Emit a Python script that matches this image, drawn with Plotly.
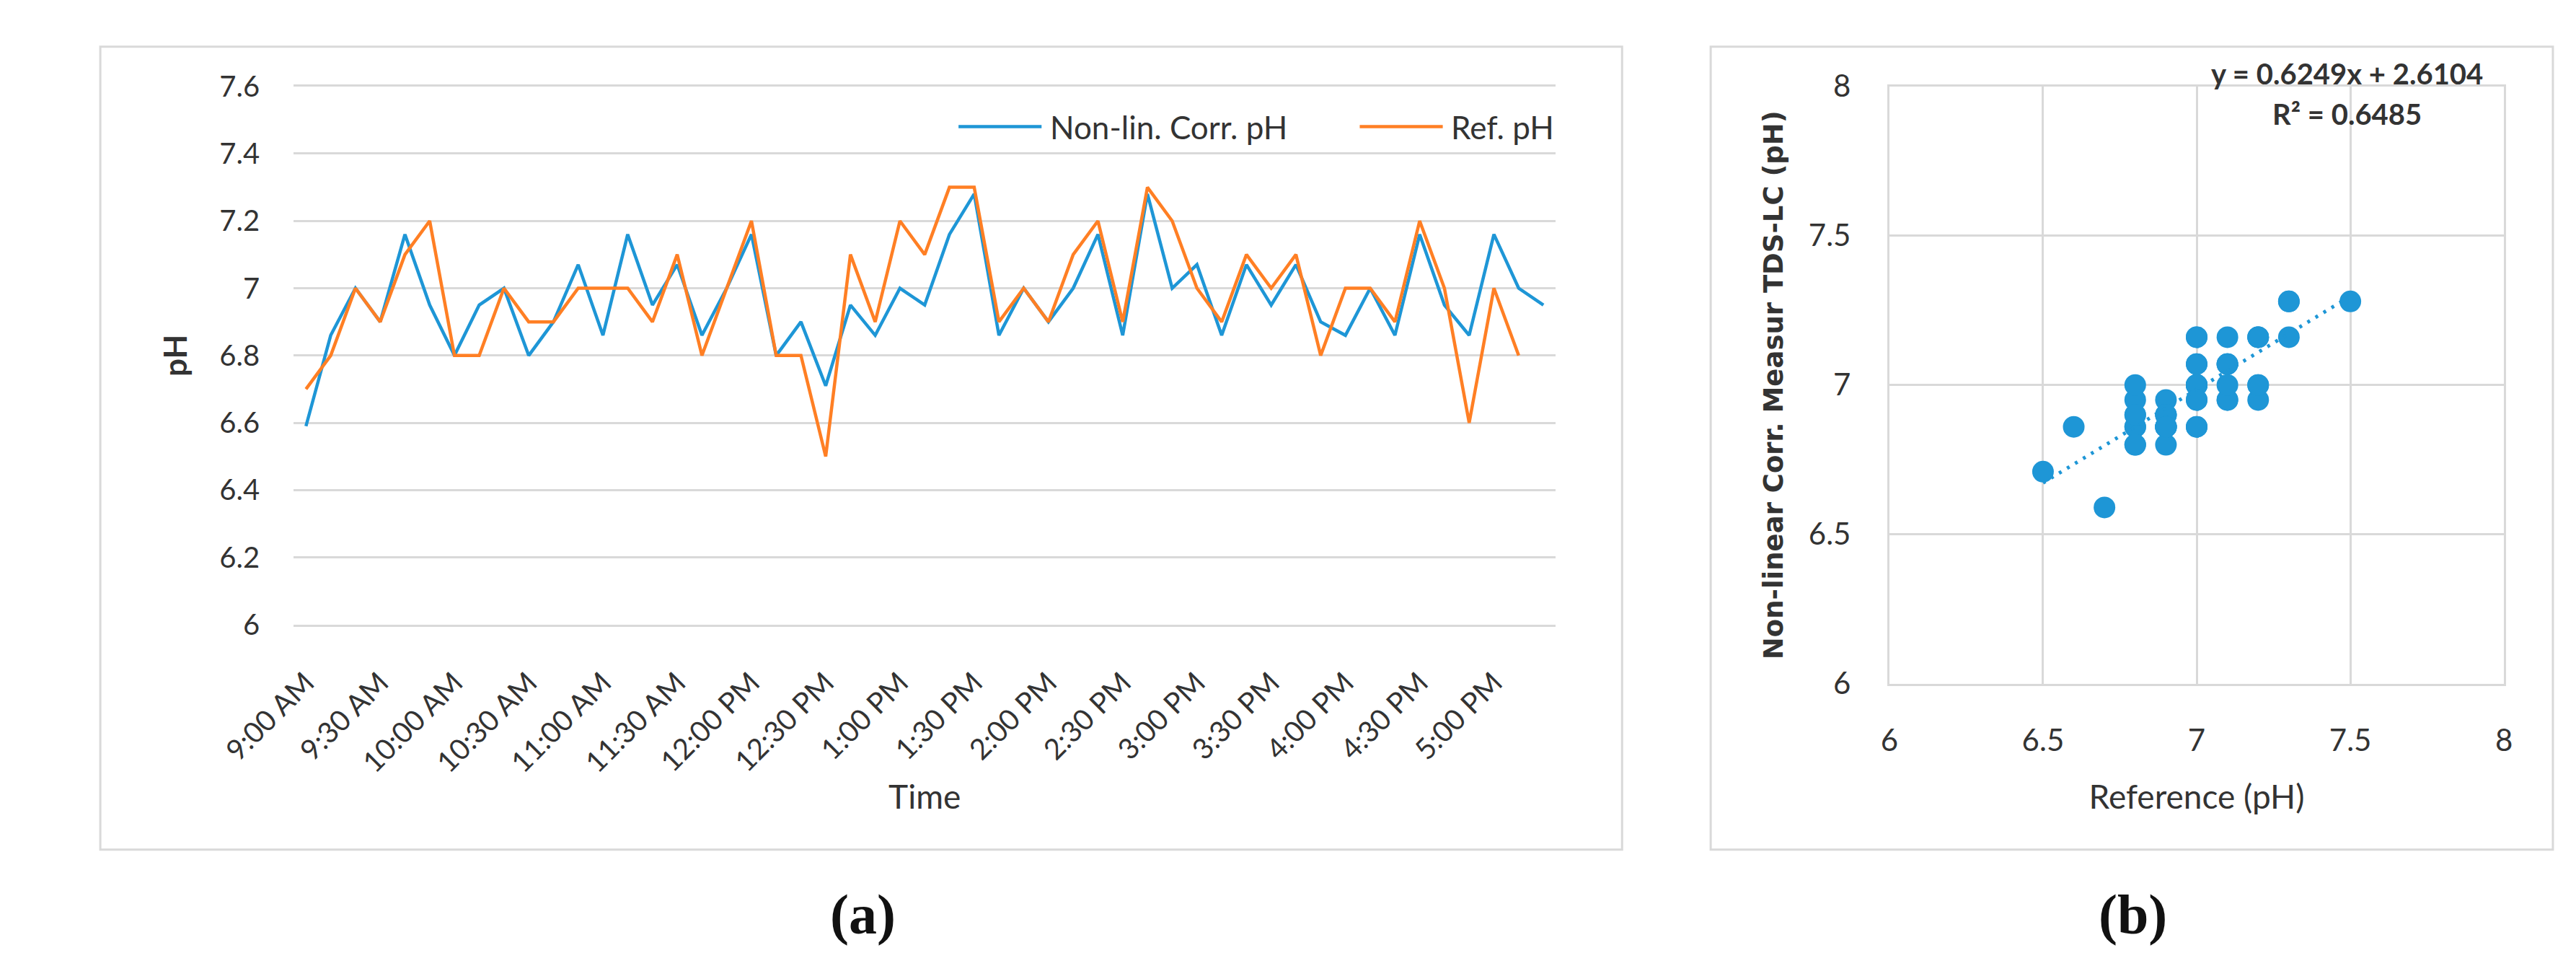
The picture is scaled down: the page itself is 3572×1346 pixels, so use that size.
import plotly.graph_objects as go

# ---------------- data ----------------
times = [
    "9:00 AM", "9:10 AM", "9:20 AM", "9:30 AM", "9:40 AM", "9:50 AM",
    "10:00 AM", "10:10 AM", "10:20 AM", "10:30 AM", "10:40 AM", "10:50 AM",
    "11:00 AM", "11:10 AM", "11:20 AM", "11:30 AM", "11:40 AM", "11:50 AM",
    "12:00 PM", "12:10 PM", "12:20 PM", "12:30 PM", "12:40 PM", "12:50 PM",
    "1:00 PM", "1:10 PM", "1:20 PM", "1:30 PM", "1:40 PM", "1:50 PM",
    "2:00 PM", "2:10 PM", "2:20 PM", "2:30 PM", "2:40 PM", "2:50 PM",
    "3:00 PM", "3:10 PM", "3:20 PM", "3:30 PM", "3:40 PM", "3:50 PM",
    "4:00 PM", "4:10 PM", "4:20 PM", "4:30 PM", "4:40 PM", "4:50 PM",
    "5:00 PM", "5:10 PM", "5:20 PM",
]
time_ticks = [
    "9:00 AM", "9:30 AM", "10:00 AM", "10:30 AM", "11:00 AM", "11:30 AM",
    "12:00 PM", "12:30 PM", "1:00 PM", "1:30 PM", "2:00 PM", "2:30 PM",
    "3:00 PM", "3:30 PM", "4:00 PM", "4:30 PM", "5:00 PM",
]
corr_ph = [
    6.59, 6.86, 7.00, 6.90, 7.16, 6.95, 6.80, 6.95, 7.00, 6.80,
    6.90, 7.07, 6.86, 7.16, 6.95, 7.07, 6.86, 7.00, 7.16, 6.80,
    6.90, 6.71, 6.95, 6.86, 7.00, 6.95, 7.16, 7.28, 6.86, 7.00,
    6.90, 7.00, 7.16, 6.86, 7.28, 7.00, 7.07, 6.86, 7.07, 6.95,
    7.07, 6.90, 6.86, 7.00, 6.86, 7.16, 6.95, 6.86, 7.16, 7.00,
    6.95,
]
ref_ph = [
    6.7, 6.8, 7.0, 6.9, 7.1, 7.2, 6.8, 6.8, 7.0, 6.9,
    6.9, 7.0, 7.0, 7.0, 6.9, 7.1, 6.8, 7.0, 7.2, 6.8,
    6.8, 6.5, 7.1, 6.9, 7.2, 7.1, 7.3, 7.3, 6.9, 7.0,
    6.9, 7.1, 7.2, 6.9, 7.3, 7.2, 7.0, 6.9, 7.1, 7.0,
    7.1, 6.8, 7.0, 7.0, 6.9, 7.2, 7.0, 6.6, 7.0, 6.8,
]
# extra point visible only in the scatter panel
scatter_extra_ref = [7.5]
scatter_extra_meas = [7.28]

ph_ticks = [6.0, 6.2, 6.4, 6.6, 6.8, 7.0, 7.2, 7.4, 7.6]
ph_tick_text = ["6", "6.2", "6.4", "6.6", "6.8", "7", "7.2", "7.4", "7.6"]
b_ticks = [6.0, 6.5, 7.0, 7.5, 8.0]
b_tick_text = ["6", "6.5", "7", "7.5", "8"]

trend_slope = 0.6249
trend_intercept = 2.6104
r_squared = 0.6485

# ---------------- styles ----------------
W, H = 3572, 1346
BLUE = "#1E96D6"
ORANGE = "#FF7F24"
GRID = "#D9D9D9"
TXT = "#333333"
FONT = "Lato"

scat_x = ref_ph + scatter_extra_ref
scat_y = corr_ph[:len(ref_ph)] + scatter_extra_meas
tx = [min(scat_x), max(scat_x)]
ty = [trend_slope * v + trend_intercept for v in tx]

fig = go.Figure()

fig.add_trace(go.Scatter(
    x=times, y=corr_ph, mode="lines", name="Non-lin. Corr. pH",
    line=dict(color=BLUE, width=4.5), xaxis="x", yaxis="y", showlegend=False))
fig.add_trace(go.Scatter(
    x=times[:len(ref_ph)], y=ref_ph, mode="lines", name="Ref. pH",
    line=dict(color=ORANGE, width=4.5), xaxis="x", yaxis="y", showlegend=False))

fig.add_trace(go.Scatter(
    x=scat_x, y=scat_y, mode="markers", name="Measurements",
    marker=dict(color=BLUE, size=30, line=dict(width=0)),
    xaxis="x2", yaxis="y2", showlegend=False))
fig.add_trace(go.Scatter(
    x=tx, y=ty, mode="lines", name="Linear trend",
    line=dict(color=BLUE, width=5, dash="4px,9px"),
    xaxis="x2", yaxis="y2", showlegend=False))


def px(x):
    return x / W


def py(y):
    return 1 - y / H


tick_font = dict(family=FONT, size=40, color=TXT)

fig.update_layout(
    width=W, height=H, autosize=False,
    margin=dict(l=0, r=0, t=0, b=0),
    paper_bgcolor="white", plot_bgcolor="white",
    font=dict(family=FONT, color=TXT),
    xaxis=dict(
        domain=[px(305), px(2114)], type="category",
        categoryorder="array", categoryarray=times,
        range=[-0.5, len(times) - 0.5],
        tickmode="array", tickvals=time_ticks, ticktext=time_ticks,
        tickangle=-45, tickfont=tick_font, ticks="", ticklabelstandoff=38,
        showgrid=False, zeroline=False,
        showline=True, mirror=True, linecolor=GRID, linewidth=3,
        title=dict(text="Time", font=dict(family=FONT, size=46, color=TXT), standoff=10),
        anchor="y", fixedrange=True,
    ),
    yaxis=dict(
        domain=[py(864), py(89)], range=[6.0, 7.6],
        tickmode="array", tickvals=ph_ticks, ticktext=ph_tick_text,
        tickfont=tick_font, ticks="", ticklabelstandoff=46,
        showgrid=True, gridcolor=GRID, gridwidth=3, zeroline=False,
        showline=False,
        title=dict(text="pH", font=dict(family=FONT, size=44, color=TXT, weight="bold"),
                   standoff=30),
        anchor="x", fixedrange=True,
    ),
    xaxis2=dict(
        domain=[px(2592), px(3473)], range=[6.0, 8.0],
        tickmode="array", tickvals=b_ticks, ticktext=b_tick_text,
        tickfont=dict(family=FONT, size=42, color=TXT), ticks="", ticklabelstandoff=40,
        showgrid=True, gridcolor=GRID, gridwidth=3, zeroline=False,
        showline=True, mirror=True, linecolor=GRID, linewidth=3,
        title=dict(text="Reference (pH)", font=dict(family=FONT, size=46, color=TXT), standoff=40),
        anchor="y2", fixedrange=True,
    ),
    yaxis2=dict(
        domain=[py(949), py(89)], range=[6.0, 8.0],
        tickmode="array", tickvals=b_ticks, ticktext=b_tick_text,
        tickfont=dict(family=FONT, size=42, color=TXT), ticks="", ticklabelstandoff=42,
        showgrid=True, gridcolor=GRID, gridwidth=3, zeroline=False,
        showline=True, mirror=True, linecolor=GRID, linewidth=3,
        title=dict(text="Non-linear Corr. Measur TDS-LC (pH)",
                   font=dict(family="DejaVu Sans", size=37, color=TXT, weight="bold"),
                   standoff=24),
        anchor="x2", fixedrange=True,
    ),
)

# panel frames
for x0, x1 in [(28, 2209), (2336, 3543)]:
    fig.add_shape(type="rect", xref="paper", yref="paper",
                  x0=px(x0), x1=px(x1), y0=py(1188), y1=py(32),
                  line=dict(color=GRID, width=3), fillcolor="rgba(0,0,0,0)", layer="below")

# manual legend (long line samples like the original)
legend_items = [("Non-lin. Corr. pH", BLUE, 1258, 1377), ("Ref. pH", ORANGE, 1833, 1952)]
for label, col, lx0, lx1 in legend_items:
    fig.add_shape(type="line", xref="paper", yref="paper",
                  x0=px(lx0), x1=px(lx1), y0=py(147), y1=py(147),
                  line=dict(color=col, width=4.5))
    fig.add_annotation(xref="paper", yref="paper", x=px(lx1 + 10), y=py(147),
                       text=label, showarrow=False, xanchor="left", yanchor="middle",
                       font=dict(family=FONT, size=44, color=TXT))

# regression equation (two lines)
eq_lines = [(f"y = {trend_slope}x + {trend_intercept}", 71),
            (f"R\u00b2 = {r_squared}", 129)]
for txt, yy in eq_lines:
    fig.add_annotation(
        xref="paper", yref="paper", x=px(3248), y=py(yy),
        text=txt, showarrow=False, xanchor="center", yanchor="middle",
        font=dict(family=FONT, size=40, color=TXT, weight="bold"))

# panel captions
for cap, cx in [("(a)", 1121), ("(b)", 2941)]:
    fig.add_annotation(xref="paper", yref="paper", x=px(cx), y=py(1281),
                       text=cap, showarrow=False, xanchor="center", yanchor="middle",
                       font=dict(family="Liberation Serif", size=78, color="#111111",
                                 weight="bold"))

fig.write_html("out.html")
